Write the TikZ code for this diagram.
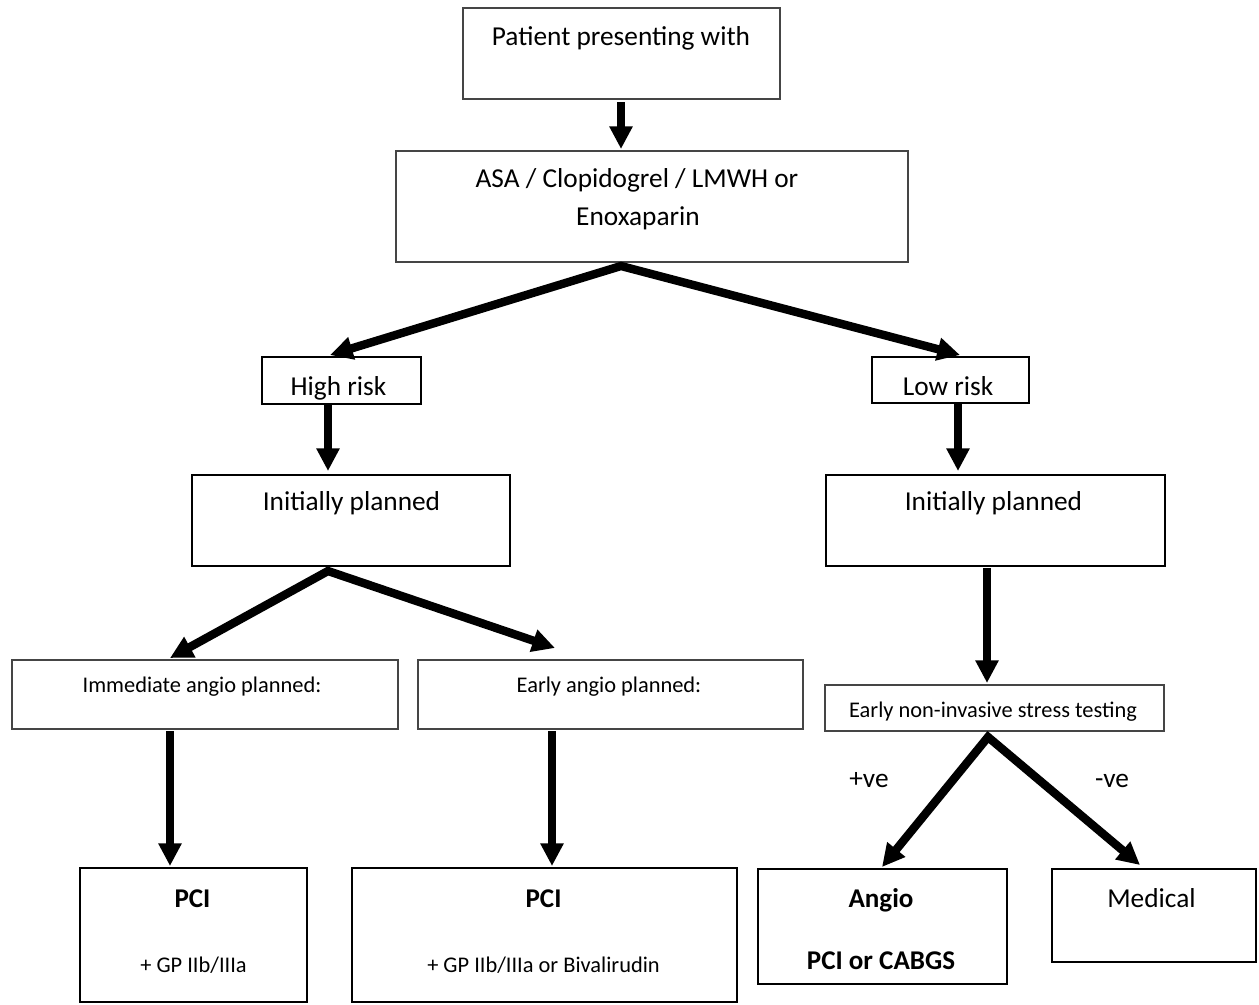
\documentclass[tikz,border=0pt]{standalone}
\usepackage{fontspec}
\setmainfont{Carlito}
\usetikzlibrary{arrows.meta,calc}
\definecolor{thingray}{HTML}{454545}
\tikzset{
  thinbox/.style={draw=thingray,line width=1.5pt,rectangle,inner sep=0pt,outer sep=0pt},
  thickbox/.style={draw=black,line width=2.2pt,rectangle,inner sep=0pt,outer sep=0pt},
  bw/.style={minimum width=#1},
  bh/.style={minimum height=#1},
  txt/.style={inner sep=0pt,outer sep=0pt,anchor=base,font=\fontsize{20.5pt}{24pt}\selectfont},
  smalltxt/.style={txt,font=\fontsize{16.8pt}{20pt}\selectfont},
  boldtxt/.style={txt,font=\fontsize{20.3pt}{24pt}\selectfont\bfseries},
  arr/.style={line width=6.3pt,-{Triangle[length=17pt,width=16.5pt]}},
  arrtwo/.style={line width=6.3pt,line join=miter,{Triangle[length=17pt,width=16.5pt]}-{Triangle[length=17pt,width=16.5pt]}}
}
\begin{document}
\begin{tikzpicture}[x=0.75pt,y=-0.75pt]
\useasboundingbox (0,0) rectangle (1259,1004);
\fill[white] (0,0) rectangle (1259,1004);

% boxes
\node[thinbox,bw=237.75pt,bh=68.25pt] (patient) at (621.5,53.5) {};
\node[thinbox,bw=384pt,bh=83.25pt] (asa) at (652,206.5) {};
\node[thickbox,bw=119.25pt,bh=35.25pt] (high) at (341.5,380.5) {};
\node[thickbox,bw=117.75pt,bh=34.5pt] (low) at (950.5,380) {};
\node[thickbox,bw=238.5pt,bh=68.25pt] (ipl) at (351,520.5) {};
\node[thickbox,bw=254.25pt,bh=68.25pt] (ipr) at (995.5,520.5) {};
\node[thinbox,bw=289.5pt,bh=51.75pt] (imm) at (205,694.5) {};
\node[thinbox,bw=288.75pt,bh=51.75pt] (early) at (610.5,694.5) {};
\node[thinbox,bw=254.25pt,bh=34.5pt] (stress) at (994.5,708) {};
\node[thickbox,bw=170.25pt,bh=100.5pt] (pcione) at (193.5,935) {};
\node[thickbox,bw=288.75pt,bh=100.5pt] (pcitwo) at (544.5,935) {};
\node[thickbox,bw=186.75pt,bh=86.25pt] (angio) at (882.5,926.5) {};
\node[thickbox,bw=153pt,bh=69.75pt] (medical) at (1154,915.5) {};

% texts
\node[txt] (tpatient) at (621,45) {Patient presenting with};
\node[txt] (tasaa) at (637,187) {ASA / Clopidogrel / LMWH or};
\node[txt] (tasab) at (638,225) {Enoxaparin};
\node[txt] (thigh) at (338.5,395) {High risk};
\node[txt] (tlow) at (948,395) {Low risk};
\node[txt] (tipl) at (351.5,510) {Initially planned};
\node[txt] (tipr) at (993.5,510) {Initially planned};
\node[smalltxt] (timm) at (202,692) {Immediate angio planned:};
\node[smalltxt] (tearly) at (609,692) {Early angio planned:};
\node[smalltxt] (tstress) at (993,717) {Early non-invasive stress testing};
\node[boldtxt] (tpcione) at (192.5,907) {PCI};
\node[smalltxt] (tgpone) at (193.5,972) {+ GP IIb/IIIa};
\node[boldtxt] (tpcitwo) at (543.5,907) {PCI};
\node[smalltxt] (tgptwo) at (543.5,972) {+ GP IIb/IIIa or Bivalirudin};
\node[boldtxt] (tangio) at (881,907) {Angio};
\node[boldtxt] (tcabgs) at (881,969) {PCI or CABGS};
\node[txt] (tmedical) at (1151.5,907) {Medical};
\node[txt] (tpos) at (869,787) {+ve};
\node[txt] (tneg) at (1112,787) {-ve};

% connectors
\draw[arr] ($(patient.south)+(-0.5,3)$) -- ($(asa.north)+(-31,-2)$);
\draw[arrtwo] ($(high.north)+(-11.5,-2)$) -- ($(asa.south)+(-31,4)$) -- ($(low.north)+(9.5,-2)$);
\draw[arr] ($(high.south)+(-13.5,1)$) -- ($(ipl.north)+(-23,-4)$);
\draw[arr] ($(low.south)+(7.5,1)$) -- ($(ipr.north)+(-37.5,-4)$);
\draw[arrtwo] ($(imm.north)+(-35,-2)$) -- ($(ipl.south)+(-23,5)$) -- ($(early.north)+(-55.5,-12)$);
\draw[arr] ($(ipr.south)+(-8.5,2)$) -- ($(stress.north)+(-7.5,-2)$);
\draw[arr] ($(imm.south)+(-35,2)$) -- ($(pcione.north)+(-23.5,-2)$);
\draw[arr] ($(early.south)+(-58.5,2)$) -- ($(pcitwo.north)+(7.5,-2)$);
\draw[arrtwo] ($(angio.north)+(-0.5,-2)$) -- ($(stress.south)+(-6.5,6)$) -- ($(medical.north)+(-14,-4)$);
\end{tikzpicture}
\end{document}
